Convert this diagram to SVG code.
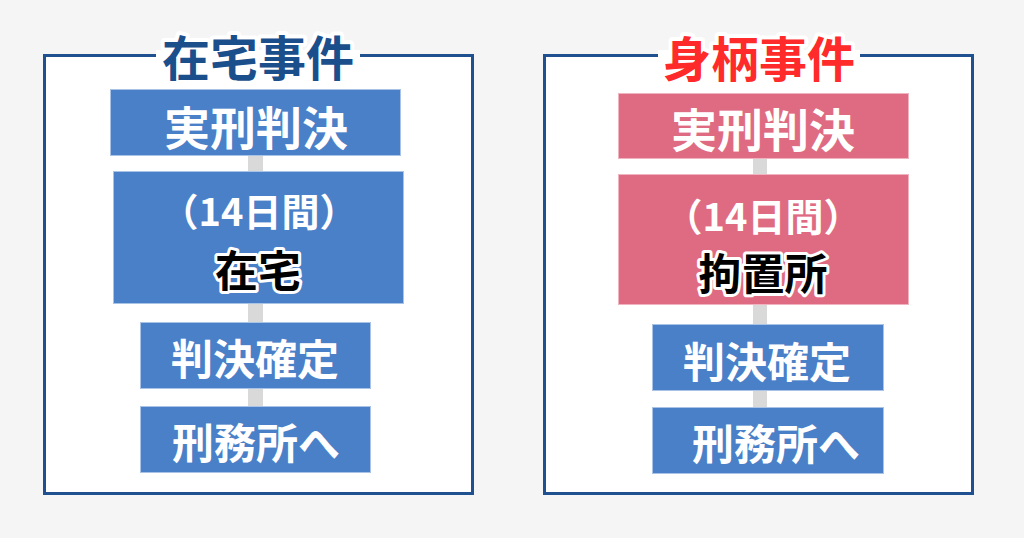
<svg xmlns="http://www.w3.org/2000/svg" width="1024" height="538" viewBox="0 0 1024 538">
<style>
text{font-family:"Noto Sans CJK JP","Noto Sans",sans-serif;font-weight:bold;text-anchor:middle;dominant-baseline:central}
.panel{fill:#fff;stroke:#1f5190;stroke-width:3}
.blue{fill:#4a80c8;stroke:#a9c3e6;stroke-width:1}
.pink{fill:#df6b82;stroke:#f0b3c0;stroke-width:1}
.w{fill:#fff}
.k{fill:#000;stroke:#fff;stroke-width:6;stroke-linejoin:round;paint-order:stroke}
.title{font-size:48px;stroke:#fff;stroke-width:8;stroke-linejoin:round;paint-order:stroke}
.conn{fill:#d9d9d9}
</style>
<rect width="1024" height="538" fill="#f5f5f5"/>
<g id="panel-left">
<rect class="panel" x="44.5" y="55.5" width="428" height="438"/>
<rect x="156" y="50" width="204" height="12" fill="#fff"/>
<text class="title" x="258" y="55" fill="#1b4f8c">在宅事件</text>
</g>
<g id="panel-right">
<rect class="panel" x="544.5" y="55.5" width="428" height="438"/>
<rect x="658" y="50" width="202" height="12" fill="#fff"/>
<text class="title" x="759" y="56" fill="#ff2a2a">身柄事件</text>
</g>
<g id="connectors">
<rect class="conn" x="248" y="150" width="15" height="260"/>
<rect class="conn" x="753" y="150" width="14" height="262"/>
</g>
<g id="l1"><rect class="blue" x="110.5" y="89.5" width="290" height="66"/><text class="w" x="256" y="125" font-size="46">実刑判決</text></g>
<g id="l2"><rect class="blue" x="113.5" y="171.5" width="290" height="132"/><text class="w" x="259" y="209" font-size="38">（14日間）</text><text class="k" x="258" y="268" font-size="43">在宅</text></g>
<g id="l3"><rect class="blue" x="140.5" y="322.5" width="230" height="66"/><text class="w" x="255" y="356" font-size="42">判決確定</text></g>
<g id="l4"><rect class="blue" x="140.5" y="406.5" width="230" height="66"/><text class="w" x="256" y="440" font-size="42">刑務所へ</text></g>
<g id="r1"><rect class="pink" x="618.5" y="93.5" width="290" height="65"/><text class="w" x="763" y="127" font-size="46">実刑判決</text></g>
<g id="r2"><rect class="pink" x="618.5" y="174.5" width="290" height="130"/><text class="w" x="763" y="214" font-size="38">（14日間）</text><text class="k" x="763" y="271" font-size="43">拘置所</text></g>
<g id="r3"><rect class="blue" x="652.5" y="324.5" width="231" height="66"/><text class="w" x="767" y="359" font-size="42">判決確定</text></g>
<g id="r4"><rect class="blue" x="652.5" y="407.5" width="231" height="66"/><text class="w" x="776" y="441" font-size="42">刑務所へ</text></g>
</svg>
